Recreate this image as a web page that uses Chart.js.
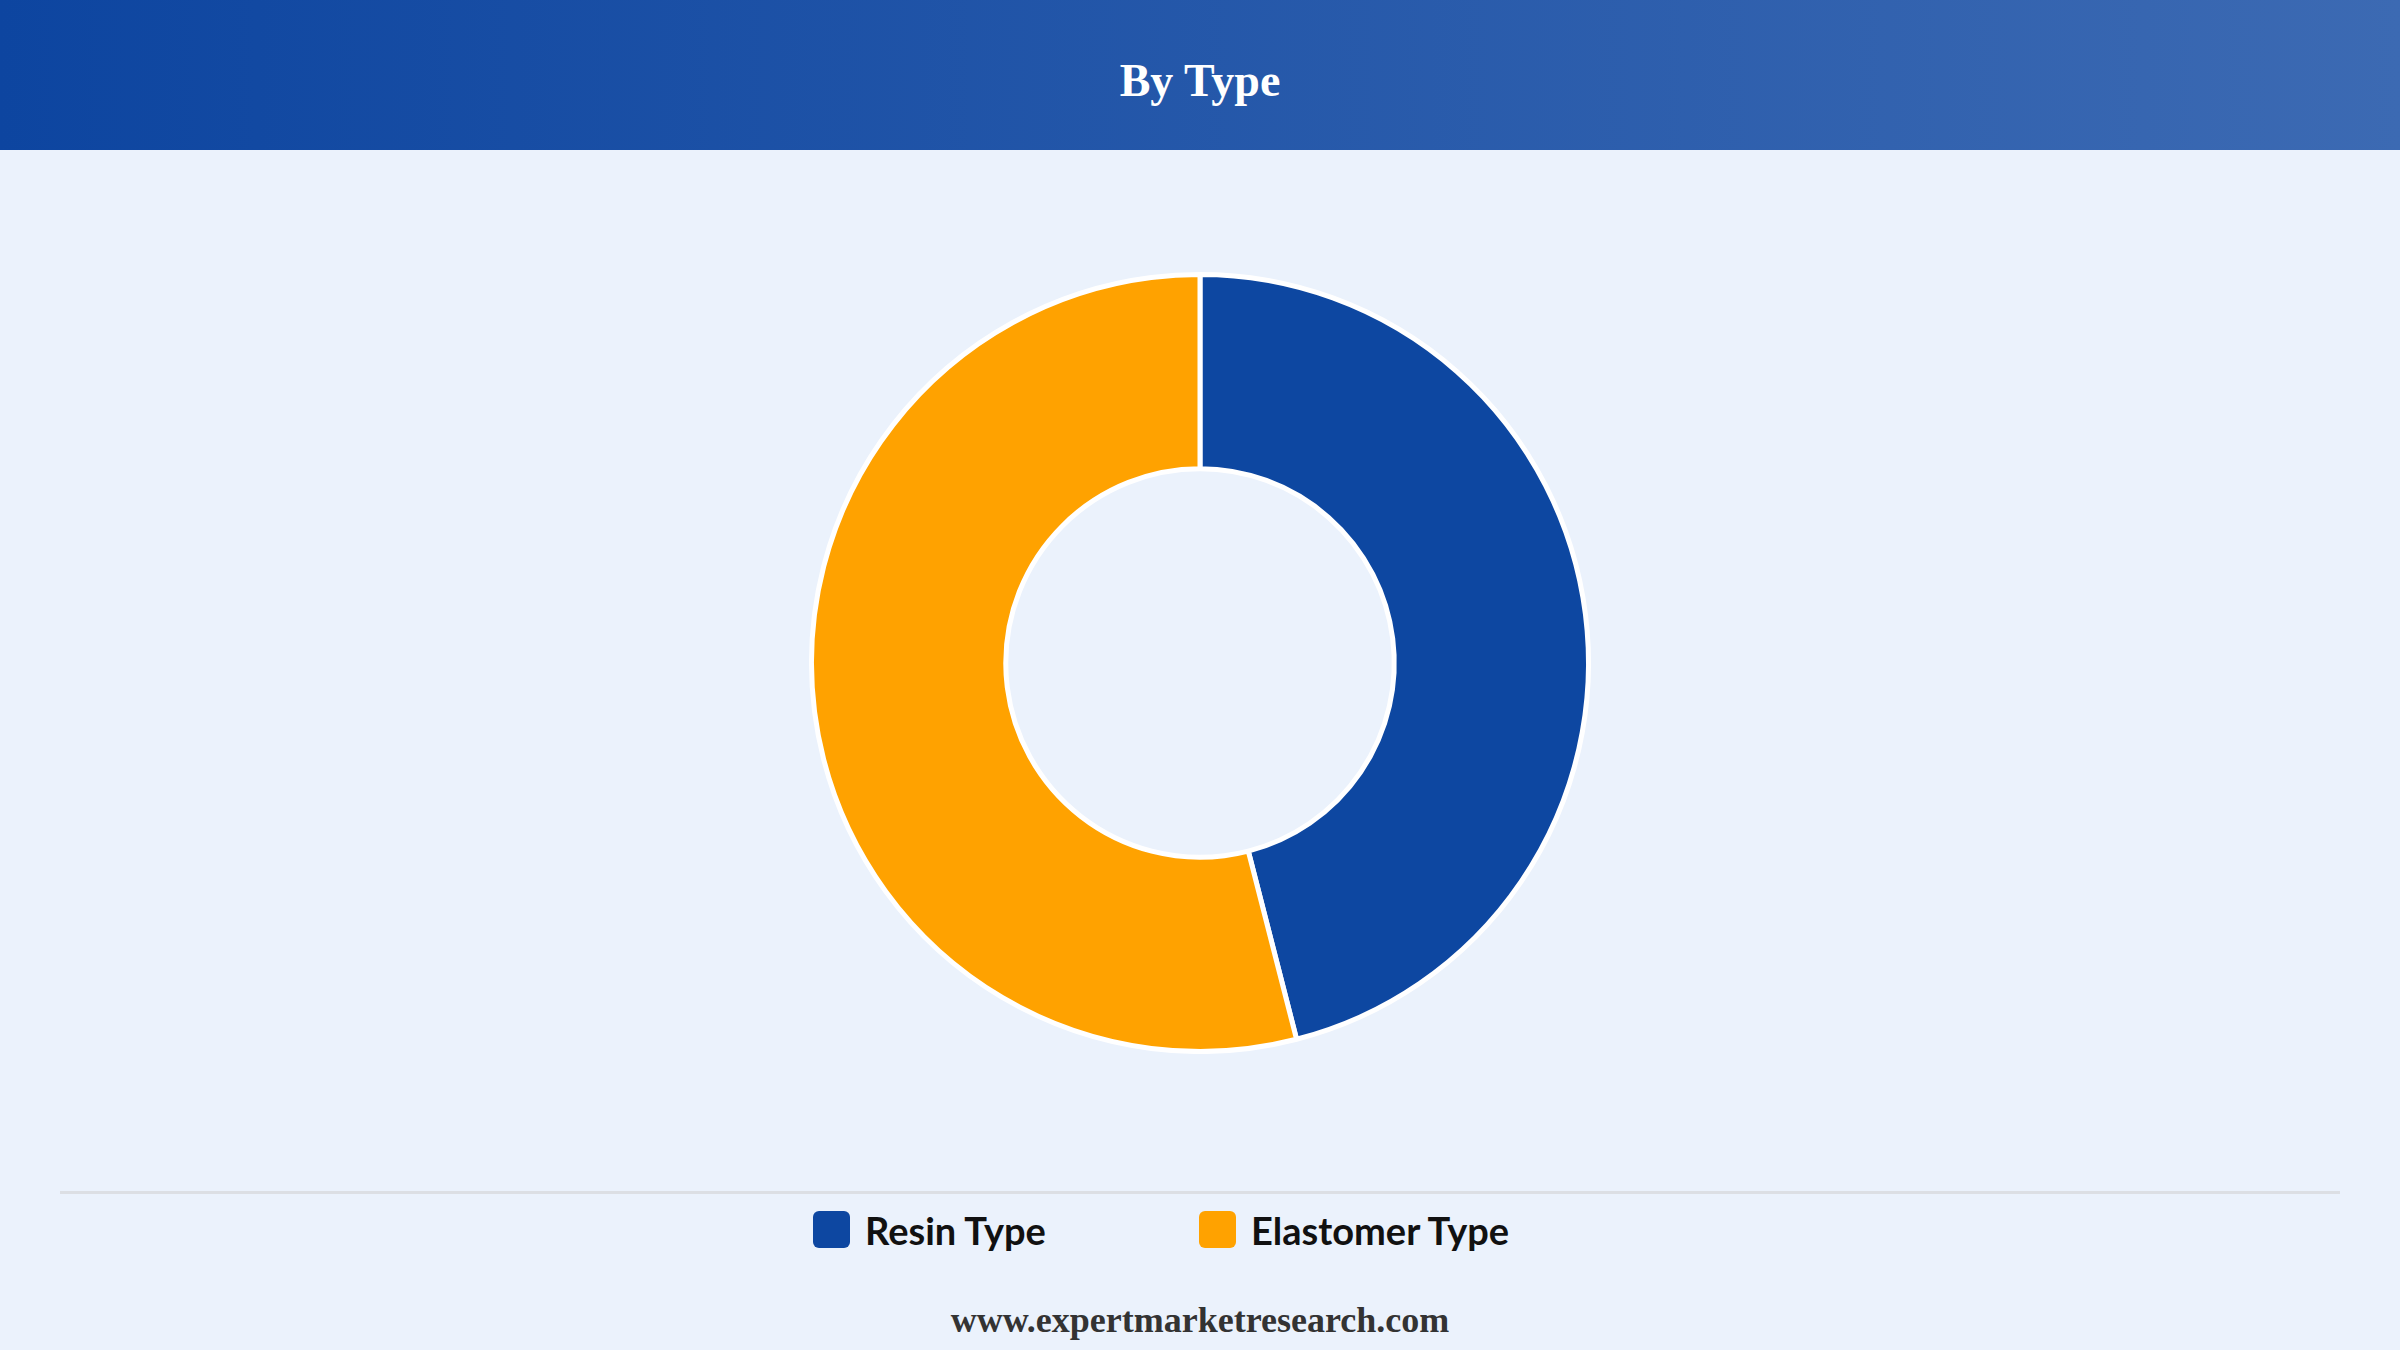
<!DOCTYPE html>
<html><head><meta charset="utf-8">
<script src="https://cdn.jsdelivr.net/npm/chart.js@4"></script>
<style>
html,body{margin:0;padding:0;width:2400px;height:1350px;background:#ebf2fc;overflow:hidden;}
#hdr{position:absolute;left:0;top:0;width:2400px;height:150px;background:linear-gradient(90deg,#0d45a0,#3c6ab3);}
#hdr div{position:absolute;width:100%;top:51px;text-align:center;color:#fff;font:bold 46px "Liberation Serif","DejaVu Serif",serif;line-height:60px;}
#wrap{position:absolute;left:0;top:272px;width:2400px;height:782px;}
#sep{position:absolute;left:60px;top:1191px;width:2280px;height:3px;background:#dcdfe4;}
.lg{position:absolute;top:1211px;height:37px;display:flex;align-items:center;font:bold 38px Lato,"Open Sans",sans-serif;color:#111;}
.sw{width:37px;height:37px;border-radius:6px;margin-right:15px;}
#foot{position:absolute;width:100%;top:1299px;text-align:center;font:bold 36px "Liberation Serif",serif;color:#333;}
</style></head><body>
<div id="hdr"><div>By Type</div></div>
<div id="wrap"><canvas id="c"></canvas></div>
<div id="sep"></div>
<div id="legend"></div>
<div id="foot">www.expertmarketresearch.com</div>
<script>
const categories=["Resin Type","Elastomer Type"];
const values=[46,54];
const colors=["#0d47a1","#ffa200"];
const lx=[813,1199];
const lg=document.getElementById('legend');
categories.forEach((c,i)=>{const d=document.createElement('div');d.className='lg';d.style.left=lx[i]+'px';d.innerHTML='<span class="sw" style="background:'+colors[i]+'"></span>'+c;lg.appendChild(d);});
new Chart(document.getElementById('c'),{type:'doughnut',
data:{labels:categories,datasets:[{data:values,backgroundColor:colors,borderColor:'#fff',borderWidth:5}]},
options:{responsive:true,maintainAspectRatio:false,animation:false,cutout:'50%',layout:{padding:0},
plugins:{legend:{display:false},tooltip:{enabled:false}}}});
</script></body></html>
